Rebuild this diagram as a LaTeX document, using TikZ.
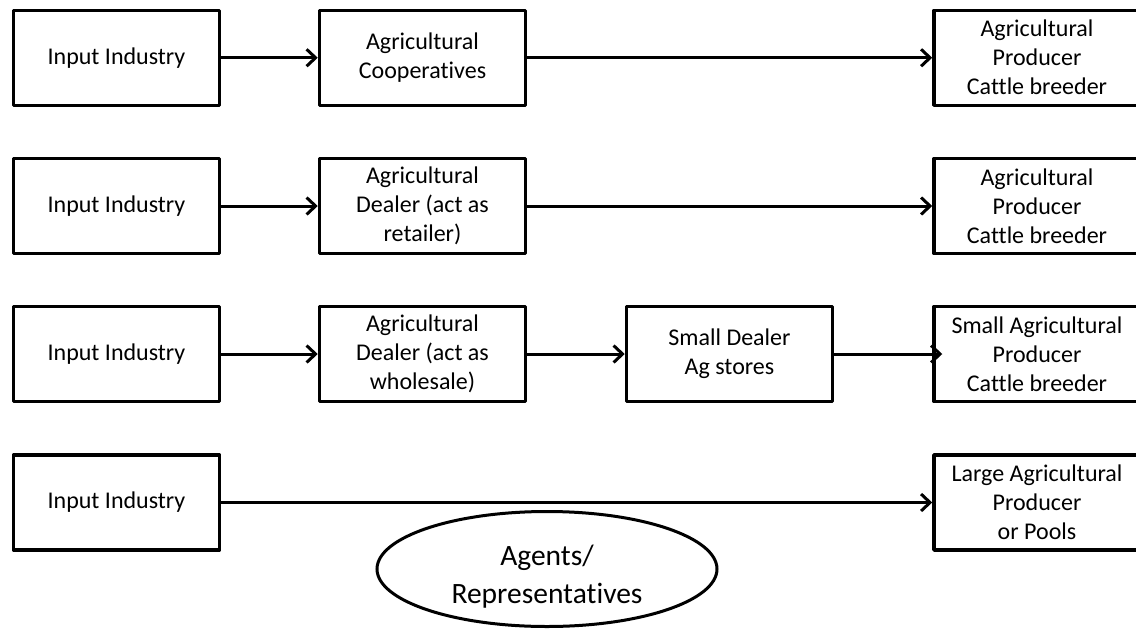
\documentclass[tikz,border=0pt]{standalone}
\usepackage{fontspec}
\setmainfont{Carlito}[Ligatures={NoCommon}]
\usetikzlibrary{arrows.meta,shapes.geometric,positioning}

\begin{document}
\begin{tikzpicture}[x=1pt,y=-1pt,>={Straight Barb[length=9pt,width=17pt]},
  box/.style={draw,line width=3.5pt,line join=round,minimum width=206pt,minimum height=95pt,
    inner sep=0pt,align=center,font=\fontsize{24}{29}\selectfont},
  flow/.style={->,line width=3pt}]
  \useasboundingbox (0,0) rectangle (1136,630);
  % row 1
  \node[box] (in1) at (116.5,57.75) {Input Industry};
  \node[box] (coop) at (422.5,57.75) {Agricultural\\Cooperatives};
  \node[box] (p1) at (1037,57.75) {Agricultural\\Producer\\Cattle breeder};
  \draw[flow] (in1) -- (coop);
  \draw[flow] (coop) -- (p1);
  % row 2
  \node[box] (in2) at (116.5,206) {Input Industry};
  \node[box] (ret) at (422.5,206) {Agricultural\\Dealer (act as\\retailer)};
  \node[box] (p2) at (1037,206) {Agricultural\\Producer\\Cattle breeder};
  \draw[flow] (in2) -- (ret);
  \draw[flow] (ret) -- (p2);
  % row 3
  \node[box] (in3) at (116.5,354) {Input Industry};
  \node[box] (whs) at (422.5,354) {Agricultural\\Dealer (act as\\wholesale)};
  \node[box] (sd3) at (729.5,354) {Small Dealer\\Ag stores};
  \node[box] (p3) at (1037,354) {Small Agricultural\\Producer\\Cattle breeder};
  \draw[flow] (in3) -- (whs);
  \draw[flow] (whs) -- (sd3);
  \draw[flow] (sd3) -- ([xshift=10pt]p3.west);
  % row 4
  \node[box] (in4) at (116.5,502.5) {Input Industry};
  \node[box] (p4) at (1037,502.5) {Large Agricultural\\Producer\\or Pools};
  \draw[flow] (in4) -- (p4);
  % agents
  \node[draw,ellipse,line width=3pt,minimum width=340pt,minimum height=115pt] (ag) at (547,569) {};
  \node[align=center,inner sep=0pt,font=\fontsize{29.5}{38}\selectfont] (agtext)
    at ([yshift=-8pt]ag.center) {Agents/\\Representatives};
\end{tikzpicture}
\end{document}
